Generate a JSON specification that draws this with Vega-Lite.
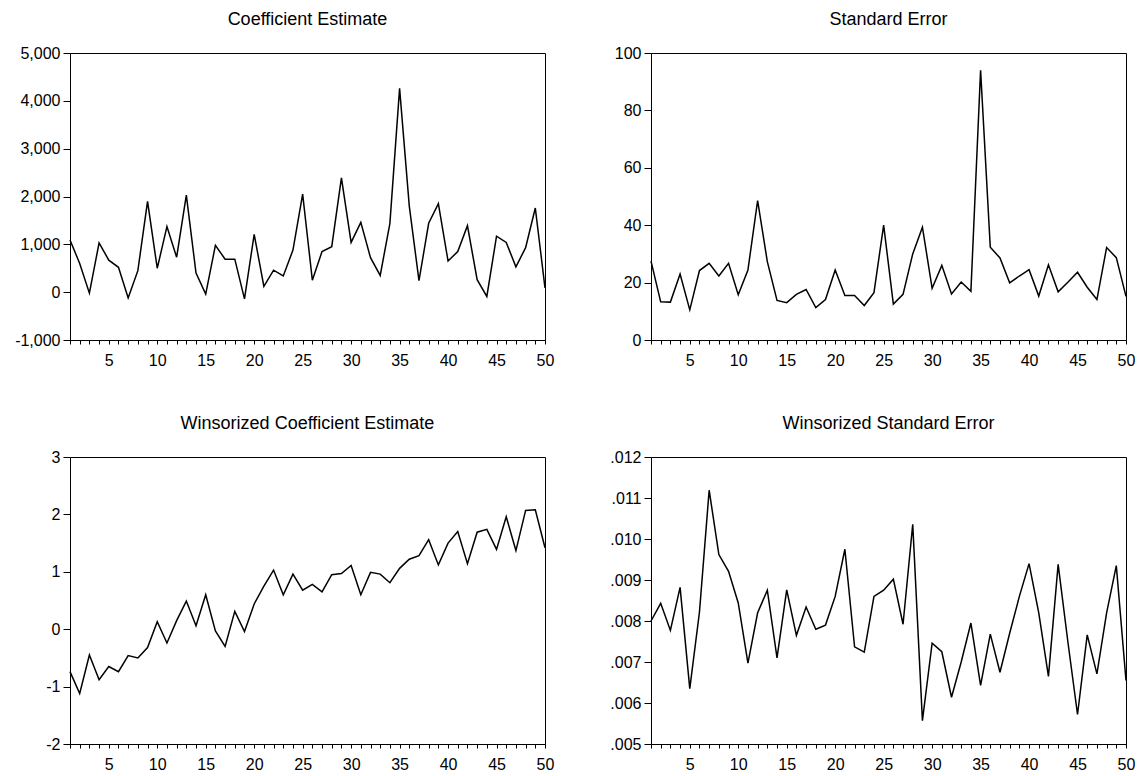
{
  "$schema": "https://vega.github.io/schema/vega-lite/v6.json",
  "background": "white",
  "padding": {"left": 9, "top": 10, "right": 5, "bottom": 5},
  "data": {"values": [
    {"t":1,"coef":1090,"se":27.5,"wcoef":-0.74,"wse":0.0080},
    {"t":2,"coef":600,"se":13.3,"wcoef":-1.12,"wse":0.00843},
    {"t":3,"coef":-20,"se":13.2,"wcoef":-0.45,"wse":0.00777},
    {"t":4,"coef":1030,"se":23.0,"wcoef":-0.88,"wse":0.00882},
    {"t":5,"coef":670,"se":10.5,"wcoef":-0.65,"wse":0.00635},
    {"t":6,"coef":520,"se":24.2,"wcoef":-0.74,"wse":0.00822},
    {"t":7,"coef":-120,"se":26.7,"wcoef":-0.46,"wse":0.01119},
    {"t":8,"coef":450,"se":22.3,"wcoef":-0.50,"wse":0.00962},
    {"t":9,"coef":1900,"se":26.7,"wcoef":-0.32,"wse":0.00921},
    {"t":10,"coef":500,"se":15.8,"wcoef":0.13,"wse":0.00844},
    {"t":11,"coef":1370,"se":24.4,"wcoef":-0.24,"wse":0.00697},
    {"t":12,"coef":730,"se":48.6,"wcoef":0.15,"wse":0.0082},
    {"t":13,"coef":2030,"se":27.3,"wcoef":0.49,"wse":0.00875},
    {"t":14,"coef":400,"se":13.8,"wcoef":0.06,"wse":0.0071},
    {"t":15,"coef":-40,"se":13.0,"wcoef":0.60,"wse":0.00876},
    {"t":16,"coef":980,"se":15.9,"wcoef":-0.03,"wse":0.00765},
    {"t":17,"coef":690,"se":17.6,"wcoef":-0.30,"wse":0.00834},
    {"t":18,"coef":690,"se":11.3,"wcoef":0.31,"wse":0.0078},
    {"t":19,"coef":-140,"se":14.1,"wcoef":-0.04,"wse":0.0079},
    {"t":20,"coef":1210,"se":24.4,"wcoef":0.44,"wse":0.0086},
    {"t":21,"coef":120,"se":15.5,"wcoef":0.75,"wse":0.00975},
    {"t":22,"coef":460,"se":15.5,"wcoef":1.03,"wse":0.00737},
    {"t":23,"coef":340,"se":12.0,"wcoef":0.60,"wse":0.00724},
    {"t":24,"coef":880,"se":16.5,"wcoef":0.96,"wse":0.0086},
    {"t":25,"coef":2050,"se":40.0,"wcoef":0.68,"wse":0.00875},
    {"t":26,"coef":250,"se":12.5,"wcoef":0.78,"wse":0.00902},
    {"t":27,"coef":850,"se":15.9,"wcoef":0.65,"wse":0.00792},
    {"t":28,"coef":950,"se":30.0,"wcoef":0.95,"wse":0.01036},
    {"t":29,"coef":2390,"se":39.3,"wcoef":0.97,"wse":0.00557},
    {"t":30,"coef":1040,"se":18.0,"wcoef":1.11,"wse":0.00746},
    {"t":31,"coef":1460,"se":26.0,"wcoef":0.60,"wse":0.00725},
    {"t":32,"coef":720,"se":16.0,"wcoef":0.99,"wse":0.00614},
    {"t":33,"coef":350,"se":20.2,"wcoef":0.96,"wse":0.0070},
    {"t":34,"coef":1440,"se":17.0,"wcoef":0.81,"wse":0.00795},
    {"t":35,"coef":4260,"se":94.0,"wcoef":1.06,"wse":0.00643},
    {"t":36,"coef":1800,"se":32.3,"wcoef":1.22,"wse":0.00768},
    {"t":37,"coef":240,"se":28.6,"wcoef":1.28,"wse":0.00675},
    {"t":38,"coef":1440,"se":19.9,"wcoef":1.56,"wse":0.0077},
    {"t":39,"coef":1850,"se":22.3,"wcoef":1.12,"wse":0.0086},
    {"t":40,"coef":650,"se":24.5,"wcoef":1.50,"wse":0.0094},
    {"t":41,"coef":850,"se":15.3,"wcoef":1.70,"wse":0.0082},
    {"t":42,"coef":1390,"se":26.2,"wcoef":1.14,"wse":0.00665},
    {"t":43,"coef":260,"se":16.8,"wcoef":1.69,"wse":0.00938},
    {"t":44,"coef":-90,"se":20.1,"wcoef":1.74,"wse":0.0075},
    {"t":45,"coef":1170,"se":23.6,"wcoef":1.39,"wse":0.00572},
    {"t":46,"coef":1040,"se":18.4,"wcoef":1.96,"wse":0.00766},
    {"t":47,"coef":530,"se":14.1,"wcoef":1.37,"wse":0.00671},
    {"t":48,"coef":930,"se":32.2,"wcoef":2.07,"wse":0.0082},
    {"t":49,"coef":1760,"se":28.7,"wcoef":2.08,"wse":0.00935},
    {"t":50,"coef":90,"se":15.2,"wcoef":1.42,"wse":0.00655}
  ]},
  "columns": 2,
  "bounds": "flush",
  "spacing": {"column": 106, "row": 117},
  "concat": [
    {
      "title": "Coefficient Estimate",
      "width": 475, "height": 287,
      "mark": {"type": "line", "color": "black", "strokeWidth": 1.5},
      "encoding": {
        "x": {"field": "t", "type": "quantitative", "scale": {"domain": [1, 50], "nice": false, "zero": false},
              "axis": {"values": [1,2,3,4,5,6,7,8,9,10,11,12,13,14,15,16,17,18,19,20,21,22,23,24,25,26,27,28,29,30,31,32,33,34,35,36,37,38,39,40,41,42,43,44,45,46,47,48,49,50],
                       "labelExpr": "datum.value % 5 === 0 ? datum.label : ''", "title": null}},
        "y": {"field": "coef", "type": "quantitative", "scale": {"domain": [-1000, 5000], "nice": false, "zero": false},
              "axis": {"values": [-1000, 0, 1000, 2000, 3000, 4000, 5000], "format": ",d", "title": null}}
      }
    },
    {
      "title": "Standard Error",
      "width": 475, "height": 287,
      "mark": {"type": "line", "color": "black", "strokeWidth": 1.5},
      "encoding": {
        "x": {"field": "t", "type": "quantitative", "scale": {"domain": [1, 50], "nice": false, "zero": false},
              "axis": {"values": [1,2,3,4,5,6,7,8,9,10,11,12,13,14,15,16,17,18,19,20,21,22,23,24,25,26,27,28,29,30,31,32,33,34,35,36,37,38,39,40,41,42,43,44,45,46,47,48,49,50],
                       "labelExpr": "datum.value % 5 === 0 ? datum.label : ''", "title": null}},
        "y": {"field": "se", "type": "quantitative", "scale": {"domain": [0, 100], "nice": false},
              "axis": {"values": [0, 20, 40, 60, 80, 100], "format": "d", "title": null}}
      }
    },
    {
      "title": "Winsorized Coefficient Estimate",
      "width": 475, "height": 287,
      "mark": {"type": "line", "color": "black", "strokeWidth": 1.5},
      "encoding": {
        "x": {"field": "t", "type": "quantitative", "scale": {"domain": [1, 50], "nice": false, "zero": false},
              "axis": {"values": [1,2,3,4,5,6,7,8,9,10,11,12,13,14,15,16,17,18,19,20,21,22,23,24,25,26,27,28,29,30,31,32,33,34,35,36,37,38,39,40,41,42,43,44,45,46,47,48,49,50],
                       "labelExpr": "datum.value % 5 === 0 ? datum.label : ''", "title": null}},
        "y": {"field": "wcoef", "type": "quantitative", "scale": {"domain": [-2, 3], "nice": false, "zero": false},
              "axis": {"values": [-2, -1, 0, 1, 2, 3], "format": "d", "title": null}}
      }
    },
    {
      "title": "Winsorized Standard Error",
      "width": 475, "height": 287,
      "mark": {"type": "line", "color": "black", "strokeWidth": 1.5},
      "encoding": {
        "x": {"field": "t", "type": "quantitative", "scale": {"domain": [1, 50], "nice": false, "zero": false},
              "axis": {"values": [1,2,3,4,5,6,7,8,9,10,11,12,13,14,15,16,17,18,19,20,21,22,23,24,25,26,27,28,29,30,31,32,33,34,35,36,37,38,39,40,41,42,43,44,45,46,47,48,49,50],
                       "labelExpr": "datum.value % 5 === 0 ? datum.label : ''", "title": null}},
        "y": {"field": "wse", "type": "quantitative", "scale": {"domain": [0.005, 0.012], "nice": false, "zero": false},
              "axis": {"values": [0.005, 0.006, 0.007, 0.008, 0.009, 0.010, 0.011, 0.012],
                       "labelExpr": "substring(format(datum.value, '.3f'), 1)", "title": null}}
      }
    }
  ],
  "config": {
    "locale": {"number": {"decimal": ".", "thousands": ",", "grouping": [3], "currency": ["$", ""], "minus": "-"}},
    "font": "Liberation Sans",
    "view": {"stroke": "black", "strokeWidth": 1},
    "title": {"fontSize": 18, "fontWeight": "normal", "color": "black", "font": "Liberation Sans", "baseline": "alphabetic", "offset": 16, "anchor": "middle"},
    "axis": {"grid": false, "domainColor": "black", "domainWidth": 1, "tickColor": "black", "tickWidth": 1,
             "labelColor": "black", "labelFont": "Liberation Sans", "labelFontSize": 16,
             "labelFlush": false, "labelOverlap": false, "minExtent": 60, "maxExtent": 60},
    "axisX": {"tickSize": 4, "labelPadding": 8, "minExtent": 30, "maxExtent": 30},
    "axisY": {"tickSize": 7, "labelPadding": 3}
  }
}
